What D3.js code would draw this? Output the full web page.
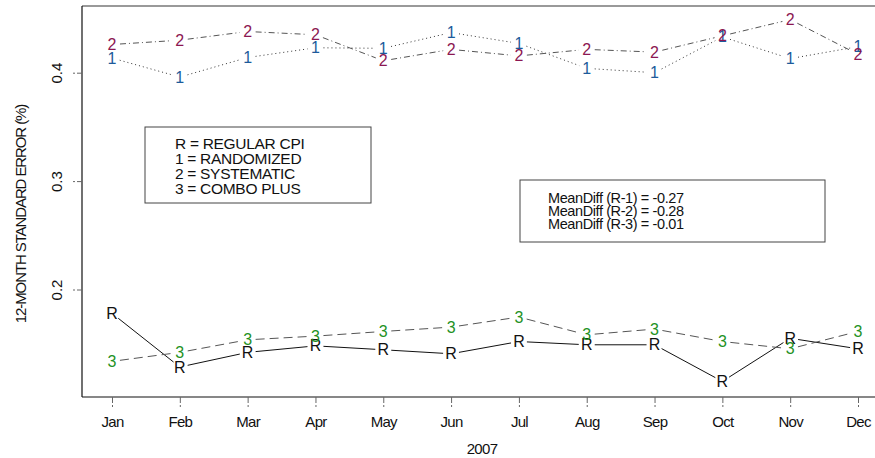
<!DOCTYPE html>
<html><head><meta charset="utf-8">
<script src="https://cdn.jsdelivr.net/npm/d3@7"></script>
<style>body{margin:0;background:#fff}svg{display:block;font-family:"Liberation Sans",Arial,sans-serif}</style>
</head><body><svg id="c" width="875" height="458"></svg>
<script>
const months = ["Jan","Feb","Mar","Apr","May","Jun","Jul","Aug","Sep","Oct","Nov","Dec"];
const regular = [0.178,0.1285,0.142,0.148,0.1444,0.1407,0.152,0.149,0.149,0.1152,0.155,0.1453];
const randomized = [0.4135,0.396,0.414,0.423,0.4225,0.437,0.427,0.404,0.400,0.433,0.413,0.424];
const systematic = [0.426,0.430,0.438,0.435,0.411,0.4215,0.4155,0.4215,0.419,0.434,0.449,0.417];
const comboPlus = [0.1337,0.142,0.1536,0.157,0.1613,0.1653,0.1746,0.1582,0.1635,0.152,0.1453,0.1613];
const yTicks = [0.2,0.3,0.4];
const legendLines = ["R = REGULAR CPI","1 = RANDOMIZED","2 = SYSTEMATIC","3 = COMBO PLUS"];
const diffLines = ["MeanDiff (R-1) = -0.27","MeanDiff (R-2) = -0.28","MeanDiff (R-3) = -0.01"];

const series = [
  {sym:"R", vals:regular, color:"#111", line:"#111", dash:null},
  {sym:"1", vals:randomized, color:"#1d5b9b", line:"#333", dash:"1,3"},
  {sym:"2", vals:systematic, color:"#8c1752", line:"#555", dash:"6,3,1,3"},
  {sym:"3", vals:comboPlus, color:"#1f921f", line:"#555", dash:"9,5"}
];

const svg = d3.select("#c");
const L=82, T=6, B=397, R=880;
const x = d3.scalePoint().domain(months).range([112,858]);
const y = d3.scaleLinear().domain([0.2,0.4]).range([289.5,72.7]);

// box
svg.append("line").attr("x1",L).attr("x2",R).attr("y1",T).attr("y2",T).attr("stroke","#777").attr("stroke-width",1.5);
svg.append("line").attr("x1",L).attr("x2",L).attr("y1",T).attr("y2",B).attr("stroke","#111").attr("stroke-width",1.2);
svg.append("line").attr("x1",L).attr("x2",R).attr("y1",B).attr("y2",B).attr("stroke","#111").attr("stroke-width",1.2);

// x axis
const xa = svg.append("g").attr("transform",`translate(0,${B})`)
  .call(d3.axisBottom(x).tickSize(10).tickPadding(9));
xa.select(".domain").remove();
xa.selectAll(".tick line").attr("stroke","#666").attr("stroke-dasharray","6,2");
xa.selectAll(".tick text").attr("font-size",15).attr("fill","#111").attr("letter-spacing","-0.7")
  .attr("font-family","'Liberation Sans',Arial,sans-serif");

// y axis
const ya = svg.append("g").attr("transform",`translate(${L},0)`)
  .call(d3.axisLeft(y).tickValues(yTicks).tickSize(9).tickFormat(d3.format(".1f")));
ya.select(".domain").remove();
ya.selectAll(".tick line").attr("stroke","#666").attr("stroke-dasharray","5,2");
ya.selectAll(".tick text").attr("font-size",15).attr("fill","#111")
  .attr("font-family","'Liberation Sans',Arial,sans-serif")
  .attr("text-anchor","middle").attr("x",0).attr("dy",0)
  .attr("transform","translate(-26,0) rotate(-90)").attr("dominant-baseline","central");

// titles
svg.append("text").attr("x",482).attr("y",454).attr("text-anchor","middle")
  .attr("font-size",15).attr("letter-spacing","-0.7").attr("fill","#111").text("2007");
svg.append("text").attr("transform","translate(26,214) rotate(-90)").attr("text-anchor","middle")
  .attr("font-size",15).attr("letter-spacing","-1.1").attr("fill","#111").text("12-MONTH STANDARD ERROR (%)");

// series
const gap = 8;
series.forEach(s=>{
  const pts = s.vals.map((v,i)=>[x(months[i]), y(v)]);
  const g = svg.append("g");
  for(let i=0;i<pts.length-1;i++){
    const [x1,y1]=pts[i],[x2,y2]=pts[i+1];
    const dx=x2-x1, dy=y2-y1, len=Math.hypot(dx,dy);
    if(len<2*gap) continue;
    const ux=dx/len, uy=dy/len;
    g.append("line").attr("x1",x1+ux*gap).attr("y1",y1+uy*gap)
      .attr("x2",x2-ux*gap).attr("y2",y2-uy*gap)
      .attr("stroke",s.line).attr("stroke-width",1)
      .attr("stroke-dasharray",s.dash);
  }
  g.selectAll("text").data(pts).join("text")
    .attr("x",d=>d[0]).attr("y",d=>d[1]).attr("text-anchor","middle")
    .attr("dominant-baseline","central").attr("font-size",16)
    .attr("fill",s.color).text(s.sym);
});

// legend box 1
svg.append("rect").attr("x",145).attr("y",127).attr("width",226).attr("height",76)
  .attr("fill","#fff").attr("stroke","#444").attr("stroke-width",1);
svg.append("g").selectAll("text").data(legendLines).join("text")
  .attr("x",175).attr("y",(d,i)=>143+i*15).attr("dominant-baseline","central")
  .attr("font-size",15.5).attr("letter-spacing","-0.3").attr("fill","#111").text(d=>d);

// legend box 2
svg.append("rect").attr("x",520).attr("y",180).attr("width",305).attr("height",62)
  .attr("fill","#fff").attr("stroke","#444").attr("stroke-width",1);
svg.append("g").selectAll("text").data(diffLines).join("text")
  .attr("x",548).attr("y",(d,i)=>197.5+i*13).attr("dominant-baseline","central")
  .attr("font-size",14.5).attr("letter-spacing","-0.4").attr("fill","#111").text(d=>d);
</script></body></html>
